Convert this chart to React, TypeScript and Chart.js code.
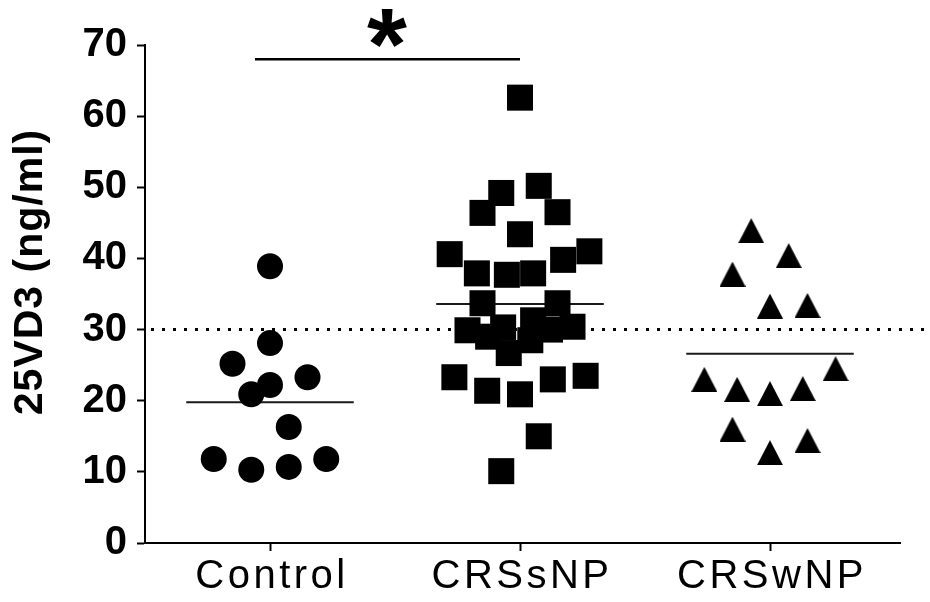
import React, { useEffect, useRef } from "react";
import { Chart, registerables } from "chart.js";

Chart.register(...registerables);

// ---- data ----
const categories = ["Control", "CRSsNP", "CRSwNP"];

const controlValues = [38.9, 28.1, 25.2, 22.2, 23.3, 20.9, 16.3, 11.8, 10.3, 10.7, 11.8];
const controlJitter = [0, 0, -2, 0, 2, -1, 1, -3, -1, 1, 3];

const crssnpValues = [
  62.6, 49.2, 50.2, 46.4, 46.5, 43.4, 40.6, 41.0, 39.8, 37.9, 37.7, 37.9,
  29.9, 33.7, 29.0, 30.3, 26.7, 28.5, 33.7, 30.0, 30.4, 31.3,
  23.3, 21.4, 20.9, 23.0, 23.5, 15.0, 10.1,
];
const crssnpJitter = [
  0, -1, 1, -2, 2, 0, -3.75, 3.7, 2.3, -2.3, -0.7, 0.7,
  -2.8, -2, -1.7, -0.9, -0.6, 0.55, 2, 1.6, 2.8, 0.7,
  -3.5, -1.75, 0, 1.75, 3.5, 1, -1,
];

const crswnpValues = [43.9, 40.4, 37.8, 33.3, 33.4, 24.5, 23.0, 21.6, 21.0, 21.7, 16.0, 14.4, 12.7];
const crswnpJitter = [-1, 1, -2, 0, 2, 3.5, -3.5, -1.75, 0, 1.75, -2, 2, 0];

const groupMeans = [19.8, 33.6, 26.6];
const thresholdValue = 30;
const significance = { from: 0, to: 1, y: 68, label: "*" };
const yTicks = [0, 10, 20, 30, 40, 50, 60, 70];
const yTitle = "25VD3 (ng/ml)";

// ---- styling constants ----
const FONT = "'Liberation Sans', Arial, Helvetica, sans-serif";
const JITTER_STEP = 0.075;
const MEAN_HALF = 0.335;

export default function App() {
  const ref = useRef<HTMLCanvasElement | null>(null);

  useEffect(() => {
    const canvas = ref.current;
    if (!canvas) return;

    const tri = document.createElement("canvas");
    tri.width = 26;
    tri.height = 25;
    const tctx = tri.getContext("2d")!;
    tctx.fillStyle = "#000";
    tctx.beginPath();
    tctx.moveTo(0, 25);
    tctx.lineTo(13, 0);
    tctx.lineTo(26, 25);
    tctx.closePath();
    tctx.fill();

    const pts = (vals: number[], jit: number[], idx: number) =>
      vals.map((v, i) => ({ x: idx + jit[i] * JITTER_STEP, y: v }));

    const meanSets = groupMeans.map((m, i) => ({
      type: "line" as const,
      data: [
        { x: i - MEAN_HALF, y: m },
        { x: i + MEAN_HALF, y: m },
      ],
      showLine: true,
      borderColor: "#1a1a1a",
      borderWidth: 2,
      pointRadius: 0,
      order: 2,
    }));

    const overlay = {
      id: "overlay",
      afterDraw(chart: any) {
        const { ctx, chartArea, scales } = chart;
        const xs = scales.x;
        const ys = scales.y;
        ctx.save();
        // threshold dotted line
        const ty = ys.getPixelForValue(thresholdValue);
        ctx.strokeStyle = "#000";
        ctx.lineWidth = 3;
        ctx.setLineDash([3, 8]);
        ctx.beginPath();
        ctx.moveTo(chartArea.left + 6, ty);
        ctx.lineTo(chart.width, ty);
        ctx.stroke();
        ctx.setLineDash([]);

        // x category labels
        ctx.fillStyle = "#000";
        ctx.font = `40px ${FONT}`;
        (ctx as any).letterSpacing = "3.5px";
        ctx.textAlign = "center";
        ctx.textBaseline = "alphabetic";
        categories.forEach((c, i) => {
          ctx.fillText(c, xs.getPixelForValue(i) + 2, chartArea.bottom + 45);
        });

        // y title
        ctx.save();
        ctx.translate(31, 272);
        ctx.rotate(-Math.PI / 2);
        ctx.font = `bold 41px ${FONT}`;
        (ctx as any).letterSpacing = "1px";
        ctx.textAlign = "center";
        ctx.textBaseline = "middle";
        ctx.fillText(yTitle, 0, 0);
        ctx.restore();

        // significance star
        (ctx as any).letterSpacing = "0px";
        ctx.textAlign = "left";
        ctx.textBaseline = "alphabetic";
        ctx.font = `bold 100px ${FONT}`;
        const m = ctx.measureText(significance.label);
        const w100 = m.actualBoundingBoxLeft + m.actualBoundingBoxRight;
        const size = (100 * 40) / w100;
        ctx.font = `bold ${size}px ${FONT}`;
        const mm = ctx.measureText(significance.label);
        const cx = xs.getPixelForValue((significance.from + significance.to) / 2) - 8;
        const cy = ys.getPixelForValue(significance.y) - 31;
        const left = cx - (mm.actualBoundingBoxRight - mm.actualBoundingBoxLeft) / 2;
        const base = cy - (mm.actualBoundingBoxDescent - mm.actualBoundingBoxAscent) / 2;
        ctx.fillText(significance.label, left, base);
        ctx.restore();
      },
    };

    const chart = new Chart(canvas, {
      type: "scatter",
      data: {
        datasets: [
          {
            data: pts(controlValues, controlJitter, 0),
            pointStyle: "circle",
            pointRadius: 13,
            backgroundColor: "#000",
            borderWidth: 0,
            order: 0,
          },
          {
            data: pts(crssnpValues, crssnpJitter, 1),
            pointStyle: "rect",
            pointRadius: 18.4,
            backgroundColor: "#000",
            borderWidth: 0,
            order: 0,
          },
          {
            data: pts(crswnpValues, crswnpJitter, 2),
            pointStyle: tri as any,
            pointRadius: 13,
            backgroundColor: "#000",
            borderWidth: 0,
            order: 0,
          },
          ...meanSets,
          {
            type: "line" as const,
            data: [
              { x: significance.from - 0.06, y: significance.y },
              { x: significance.to, y: significance.y },
            ],
            showLine: true,
            borderColor: "#000",
            borderWidth: 2.5,
            pointRadius: 0,
            order: 2,
            clip: false as any,
          },
        ] as any,
      },
      options: {
        animation: false,
        responsive: false,
        events: [],
        layout: { padding: { top: 45, right: 30, left: 0, bottom: 0 } },
        plugins: { legend: { display: false }, tooltip: { enabled: false } },
        scales: {
          x: {
            type: "linear",
            min: -0.5,
            max: 2.52,
            afterBuildTicks: (scale: any) => {
              scale.ticks = categories.map((_, i) => ({ value: i }));
            },
            afterFit: (scale: any) => {
              scale.height = 59;
            },
            ticks: { display: false },
            grid: {
              display: true,
              drawOnChartArea: false,
              drawTicks: true,
              tickLength: 8,
              tickWidth: 2,
              tickColor: "#000",
              color: "#000",
            },
            border: { display: true, color: "#000", width: 2 },
          },
          y: {
            type: "linear",
            min: 0,
            max: 70,
            afterBuildTicks: (scale: any) => {
              scale.ticks = yTicks.map((v) => ({ value: v }));
            },
            afterFit: (scale: any) => {
              scale.width = 145;
            },
            ticks: {
              font: { family: FONT, size: 40, weight: "bold" },
              color: "#000",
              padding: 10,
            },
            grid: {
              display: true,
              drawOnChartArea: false,
              drawTicks: true,
              tickLength: 8,
              tickWidth: 2,
              tickColor: "#000",
              color: "#000",
            },
            border: { display: true, color: "#000", width: 2 },
          },
        },
      } as any,
      plugins: [overlay],
    });

    return () => chart.destroy();
  }, []);

  return (
    <div style={{ position: "absolute", left: 0, top: 0, width: 930, height: 602, background: "#fff" }}>
      <canvas ref={ref} width={930} height={602} style={{ display: "block" }} />
    </div>
  );
}
